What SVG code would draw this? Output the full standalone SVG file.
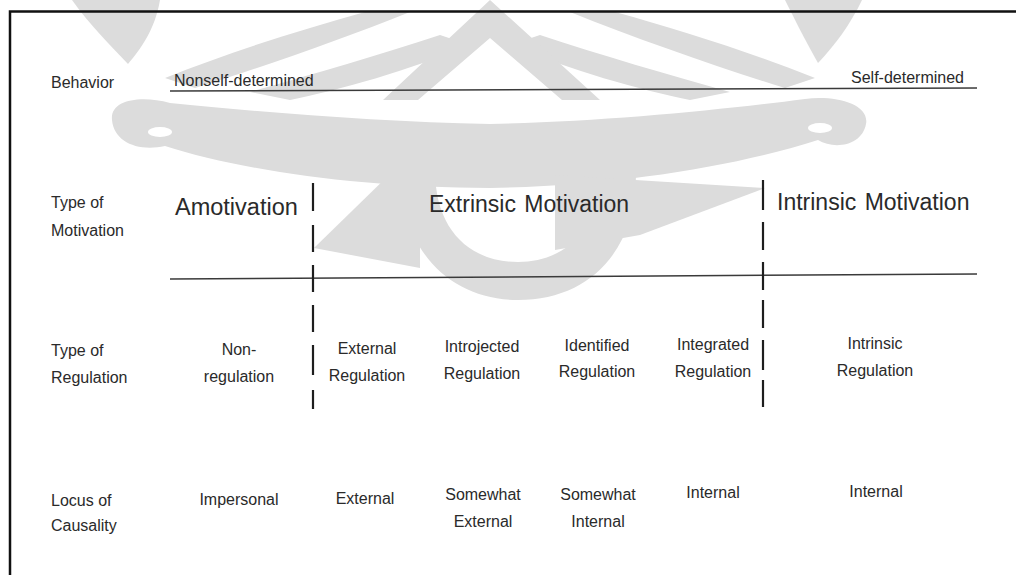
<svg xmlns="http://www.w3.org/2000/svg" width="1016" height="575" viewBox="0 0 1016 575">
<style>
text{font-family:"Liberation Sans",Arial,Helvetica,sans-serif;fill:#2a2a2a;font-size:16px}
.c{text-anchor:middle}
.e{text-anchor:end}
.big{font-size:23px;word-spacing:2px}
.amo{font-size:23.5px}
.rule{stroke:#3a3a3a;stroke-width:1.5;fill:none}
.div{stroke:#1e1e1e;stroke-width:2.2;fill:none}
.wm{fill:#dcdcdc}
.frame{stroke:#111;stroke-width:2.5;fill:none}
</style>
<rect width="1016" height="575" fill="#fff"/>
<g id="watermark">
<path class="wm" d="M112,120 C110,100 140,95 170,103 C260,112 380,122 490,124 C600,122 720,110 805,99 C835,95 870,104 866,124 C862,146 834,150 818,140 C740,165 620,186 490,188 C360,188 240,170 165,146 C138,152 114,142 112,120 Z"/>
<ellipse cx="160" cy="132" rx="12" ry="5" fill="#fff"/>
<ellipse cx="820" cy="128" rx="12" ry="5" fill="#fff"/>
<path class="wm" d="M400,170 C400,250 450,300 518,300 C590,300 636,250 636,175 L600,170 C600,230 565,262 518,262 C470,262 435,230 435,170 Z"/>
<polygon class="wm" points="314,248 392,172 420,170 420,268"/>
<polygon class="wm" points="555,175 765,188 640,235 555,250"/>
<path class="wm" d="M72,0 H160 C155,30 140,50 128,64 C110,45 90,25 72,0 Z"/>
<path class="wm" d="M785,0 H862 C850,25 835,45 818,63 C805,40 795,20 785,0 Z"/>
<g id="wm-rays">
<path class="wm" d="M165,78 C230,52 300,30 365,12 L410,12 C340,40 260,68 195,88 Z"/>
<path class="wm" d="M250,92 C310,75 380,55 440,35 L470,45 C410,70 340,90 290,100 Z"/>
</g>
<use href="#wm-rays" transform="matrix(-1 0 0 1 980 0)"/>
<path class="wm" d="M490,0 L600,100 L562,100 L490,38 L418,100 L383,100 Z"/>
</g>
<g id="frame"><path class="frame" d="M10,575 V11.5 H1016"/></g>
<g id="connectors">
<path class="rule" d="M170,91 L977,88"/>
<path class="rule" d="M170,279 L977,274"/>
<path class="div" d="M313,183V211M313,225V252M313,265V292M313,305V332M313,345V375M313,390V409"/>
<path class="div" d="M763,180V210M763,222V250M763,262V290M763,300V328M763,340V370M763,380V407"/>
</g>
<g id="label-behavior"><text x="51" y="88">Behavior</text></g>
<g id="label-motivation"><text x="51" y="208">Type of</text><text x="51" y="236">Motivation</text></g>
<g id="label-regulation"><text x="51" y="356">Type of</text><text x="51" y="383">Regulation</text></g>
<g id="label-locus"><text x="51" y="506">Locus of</text><text x="51" y="531">Causality</text></g>
<g id="behavior-nonself"><text x="174" y="86">Nonself-determined</text></g>
<g id="behavior-self"><text class="e" x="964" y="83">Self-determined</text></g>
<g id="amotivation"><text class="amo" x="175" y="215">Amotivation</text></g>
<g id="extrinsic-motivation"><text class="big" x="429" y="212">Extrinsic Motivation</text></g>
<g id="intrinsic-motivation"><text class="big" x="777" y="210">Intrinsic Motivation</text></g>
<g id="reg-non"><text class="c" x="239" y="355">Non-</text><text class="c" x="239" y="382">regulation</text></g>
<g id="reg-external"><text class="c" x="367" y="354">External</text><text class="c" x="367" y="381">Regulation</text></g>
<g id="reg-introjected"><text class="c" x="482" y="352">Introjected</text><text class="c" x="482" y="379">Regulation</text></g>
<g id="reg-identified"><text class="c" x="597" y="351">Identified</text><text class="c" x="597" y="377">Regulation</text></g>
<g id="reg-integrated"><text class="c" x="713" y="350">Integrated</text><text class="c" x="713" y="377">Regulation</text></g>
<g id="reg-intrinsic"><text class="c" x="875" y="349">Intrinsic</text><text class="c" x="875" y="376">Regulation</text></g>
<g id="loc-impersonal"><text class="c" x="239" y="505">Impersonal</text></g>
<g id="loc-external"><text class="c" x="365" y="504">External</text></g>
<g id="loc-somewhat-external"><text class="c" x="483" y="500">Somewhat</text><text class="c" x="483" y="527">External</text></g>
<g id="loc-somewhat-internal"><text class="c" x="598" y="500">Somewhat</text><text class="c" x="598" y="527">Internal</text></g>
<g id="loc-internal-1"><text class="c" x="713" y="498">Internal</text></g>
<g id="loc-internal-2"><text class="c" x="876" y="497">Internal</text></g>
</svg>
